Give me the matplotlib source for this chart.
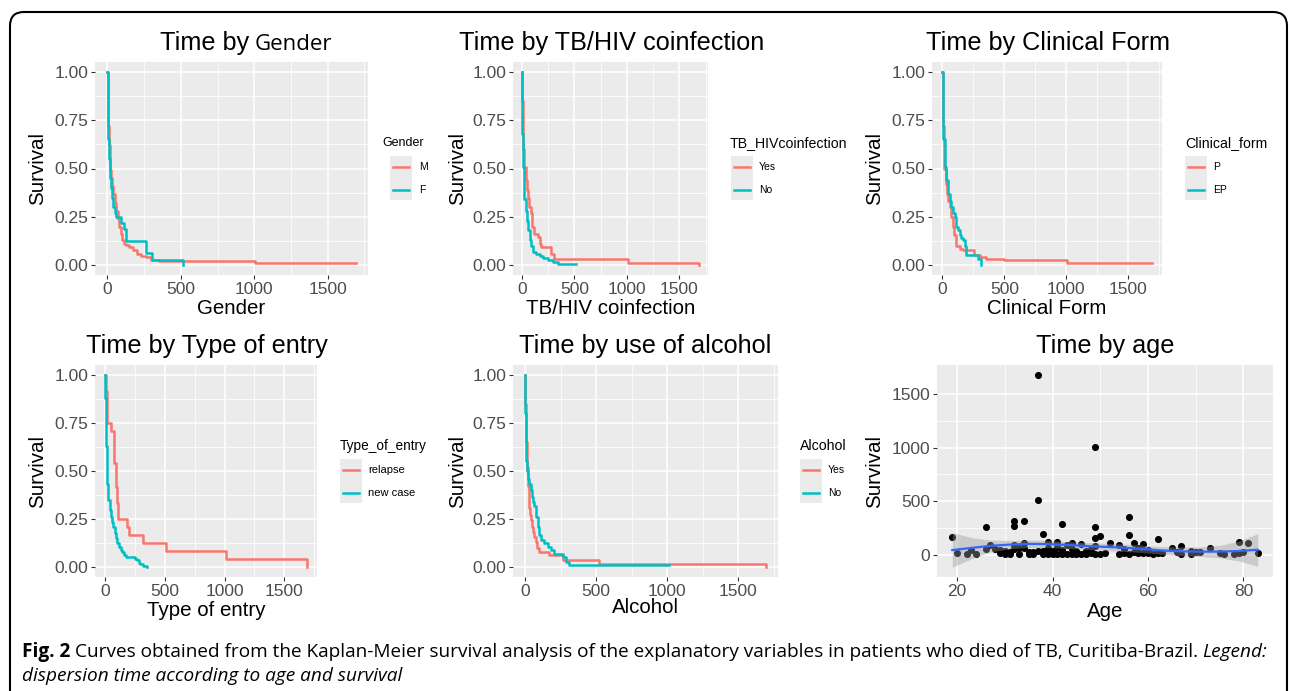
import numpy as np
import matplotlib
matplotlib.use("Agg")
import matplotlib.pyplot as plt
from matplotlib.patches import FancyBboxPatch, Rectangle
from matplotlib.lines import Line2D

W, H = 1290, 691
RED = "#F8766D"; TEAL = "#00BFC4"; PANEL_BG = "#EBEBEB"
plt.rcParams["font.family"] = ["Liberation Sans", "DejaVu Sans"]

# --- Kaplan-Meier curves (time, survival) ---
gender_m_t = [0, 3, 6, 10, 15, 20, 25, 32, 40, 50, 60, 70, 80, 90, 100, 110, 125, 150, 175, 200, 230, 260, 300, 350, 1007, 1690]
gender_m_s = [1.0, .85, .72, .62, .55, .49, .45, .41, .37, .32, .28, .24, .20, .16, .13, .11, .105, .095, .08, .06, .05, .043, .03, .02, .01, .01]
gender_f_t = [0, 3, 6, 10, 15, 20, 25, 30, 40, 50, 57, 90, 113, 124, 265, 305, 516]
gender_f_s = [1.0, .80, .65, .55, .50, .45, .40, .35, .30, .27, .25, .22, .19, .125, .065, .03, 0.0]

hiv_yes_t = [0, 3, 8, 15, 25, 35, 45, 57, 70, 89, 100, 111, 152, 168, 183, 278, 310, 1006, 1687]
hiv_yes_s = [1.0, .85, .72, .60, .51, .44, .39, .35, .30, .27, .20, .16, .147, .11, .095, .06, .034, .014, 0.0]
hiv_no_t = [0, 2, 5, 10, 18, 25, 35, 50, 60, 73, 90, 104, 130, 168, 200, 247, 300, 342, 516]
hiv_no_s = [1.0, .85, .68, .51, .42, .34, .28, .23, .18, .13, .10, .07, .06, .05, .04, .026, .018, .009, .009]

form_p_t = [0, 3, 6, 10, 16, 25, 35, 45, 59, 72, 85, 94, 112, 139, 166, 259, 300, 353, 500, 1008, 1690]
form_p_s = [1.0, .85, .72, .60, .50, .42, .37, .33, .30, .25, .20, .155, .10, .086, .078, .052, .043, .034, .026, .012, .012]
form_ep_t = [0, 3, 8, 19, 30, 45, 60, 72, 85, 99, 112, 125, 139, 150, 166, 180, 193, 286, 313]
form_ep_s = [1.0, .82, .65, .51, .44, .37, .33, .30, .27, .25, .20, .18, .155, .14, .13, .10, .052, .034, 0.0]

relapse_t = [0, 4, 8, 12, 19, 47, 75, 88, 92, 96, 100, 104, 108, 185, 199, 318, 508, 1014, 1690]
relapse_s = [1.0, .958, .917, .833, .75, .708, .542, .458, .417, .375, .333, .292, .25, .208, .167, .125, .083, .042, 0.0]
newcase_t = [0, 2, 5, 8, 14, 20, 28, 38, 47, 58, 69, 80, 88, 100, 116, 130, 144, 160, 171, 226, 254, 268, 282, 296, 320, 351]
newcase_s = [1.0, .88, .75, .63, .52, .43, .35, .30, .26, .235, .21, .18, .15, .125, .107, .09, .081, .065, .055, .052, .045, .038, .025, .016, .008, .003]

alc_yes_t = [0, 2, 5, 7, 12, 19, 25, 30, 36, 42, 48, 54, 65, 77, 86, 96, 171, 265, 522, 1693]
alc_yes_s = [1.0, .85, .75, .65, .52, .42, .36, .31, .27, .245, .21, .185, .16, .133, .10, .081, .064, .038, .016, 0.0]
alc_no_t = [0, 2, 5, 8, 12, 20, 30, 40, 49, 58, 66, 78, 89, 100, 112, 136, 159, 183, 206, 265, 288, 311, 1014]
alc_no_s = [1.0, .80, .65, .55, .50, .46, .43, .40, .365, .34, .32, .26, .21, .17, .14, .124, .107, .09, .067, .055, .029, .012, .012]

# --- survival time by age (scatter) ---
age = [19, 20, 22, 23, 24, 26, 26, 27, 28, 29, 29, 30, 30, 31, 31, 32, 32, 32, 32, 33, 33, 34, 34, 34,
       35, 35, 36, 36, 37, 37, 37, 38, 38, 38, 39, 39, 39, 40, 40, 41, 41, 41, 42, 42, 42, 43, 43, 44,
       44, 44, 45, 45, 46, 46, 47, 47, 48, 48, 49, 49, 49, 49, 49, 50, 50, 51, 52, 54, 54, 55, 55, 56,
       56, 56, 57, 57, 58, 58, 59, 59, 60, 60, 61, 62, 62, 63, 65, 66, 67, 67, 69, 69, 70, 71, 73, 75,
       76, 78, 79, 79, 80, 81, 83]
surv_time = [160, 12, 8, 38, 5, 258, 50, 91, 50, 45, 15, 8, 30, 5, 20, 311, 271, 50, 85, 5, 60, 311, 110, 60,
             5, 25, 5, 20, 1685, 509, 30, 195, 30, 5, 120, 5, 60, 5, 30, 120, 5, 70, 286, 5, 40, 90, 5, 110,
             5, 50, 5, 30, 100, 5, 30, 5, 50, 10, 1004, 255, 155, 80, 5, 178, 5, 10, 110, 5, 90, 10, 50, 349,
             186, 5, 110, 25, 10, 60, 100, 15, 10, 40, 5, 148, 10, 15, 60, 20, 78, 5, 5, 30, 20, 25, 60, 10,
             5, 5, 122, 15, 20, 110, 15]
smooth_age = [19, 23, 27, 31, 35, 39, 43, 47, 51, 55, 59, 63, 67, 71, 75, 79, 83]
smooth_fit = [42, 62, 82, 93, 100, 98, 90, 80, 72, 64, 52, 38, 30, 27, 28, 33, 45]
smooth_lo = [-120, -40, 25, 55, 65, 65, 58, 48, 38, 30, 18, 2, -10, -18, -30, -60, -110]
smooth_hi = [205, 160, 135, 132, 135, 131, 122, 112, 106, 98, 86, 74, 70, 72, 86, 125, 195]

fig = plt.figure(figsize=(W / 100, H / 100), dpi=100)
fig.patch.set_facecolor("white")
R = fig.canvas.get_renderer()

def fx(x): return x / W
def fy(y): return 1 - y / H

def px_axes(x0, y0, x1, y1):
    return fig.add_axes([fx(x0), fy(y1), (x1 - x0) / W, (y1 - y0) / H])

def style(ax, xmaj, xmin, ymaj, ymin, ylabels=None):
    ax.set_facecolor(PANEL_BG)
    for sp in ax.spines.values():
        sp.set_visible(False)
    ax.set_xticks(xmaj); ax.set_xticks(xmin, minor=True)
    ax.set_yticks(ymaj); ax.set_yticks(ymin, minor=True)
    if ylabels is not None:
        ax.set_yticklabels(ylabels)
    ax.grid(which="major", color="white", lw=1.1)
    ax.grid(which="minor", color="white", lw=0.55)
    ax.set_axisbelow(True)
    ax.tick_params(which="major", length=3, width=0.8, color="#333333",
                   labelcolor="#4D4D4D", labelsize=12.5, pad=2)
    ax.tick_params(which="minor", length=0)

def text_runs(x, y, parts, center=False, gap=0):
    objs = [fig.text(0, fy(y), s, va="baseline", **kw) for s, kw in parts]
    widths = [t.get_window_extent(R).width for t in objs]
    cur = x - (sum(widths) + gap * (len(objs) - 1)) / 2 if center else x
    for t, w in zip(objs, widths):
        t.set_x(fx(cur)); cur += w + gap
    return objs

def legend(tx, ty, kx, lx, title, labels, tsize, lsize):
    fig.text(fx(tx), fy(ty), title, ha="left", va="center", fontsize=tsize, color="black")
    fig.add_artist(Rectangle((fx(kx), fy(ty + 57)), 22 / W, 44 / H,
                             transform=fig.transFigure, color=PANEL_BG, lw=0))
    for k, (lab, col) in enumerate(zip(labels, [RED, TEAL])):
        yy = ty + 24 + 23 * k
        fig.add_artist(Line2D([fx(kx + 3), fx(kx + 19)], [fy(yy)] * 2,
                              transform=fig.transFigure, color=col, lw=1.8))
        fig.text(fx(lx), fy(yy), lab, ha="left", va="center", fontsize=lsize)

def km_panel(box, t1, s1, t2, s2, xlabel, ylx, xly):
    ax = px_axes(*box)
    ax.step(t1, s1, where="post", color=RED, lw=1.8)
    ax.step(t2, s2, where="post", color=TEAL, lw=1.8)
    tmax = max(t1[-1], t2[-1])
    ax.set_xlim(-0.05 * tmax, 1.05 * tmax)
    ax.set_ylim(-0.05, 1.05)
    style(ax, [0, 500, 1000, 1500], [250, 750, 1250, 1750],
          [0, .25, .5, .75, 1.0], [.125, .375, .625, .875],
          ["0.00", "0.25", "0.50", "0.75", "1.00"])
    ax.set_xlabel(xlabel, fontsize=14.8, va="center")
    ax.set_ylabel("Survival", fontsize=14.8, va="center")
    ax.xaxis.set_label_coords(0.5, xly)
    ax.yaxis.set_label_coords(ylx, 0.5)
    return ax

km_panel((95, 62, 368, 275), gender_m_t, gender_m_s, gender_f_t, gender_f_s, "Gender", -0.209, -0.155)
km_panel((513, 62, 708, 275), hiv_yes_t, hiv_yes_s, hiv_no_t, hiv_no_s, "TB/HIV coinfection", -0.287, -0.155)
km_panel((932, 62, 1162, 275), form_p_t, form_p_s, form_ep_t, form_ep_s, "Clinical Form", -0.248, -0.155)
km_panel((95, 365, 317, 577), relapse_t, relapse_s, newcase_t, newcase_s, "Type of entry", -0.257, -0.156)
km_panel((513, 365, 778, 577), alc_yes_t, alc_yes_s, alc_no_t, alc_no_s, "Alcohol", -0.211, -0.146)

ax6 = px_axes(937, 365, 1273, 577)
ax6.scatter(age, surv_time, s=26, color="black", lw=0, zorder=2)
ax6.fill_between(smooth_age, smooth_lo, smooth_hi, color="#999999", alpha=0.4, lw=0, zorder=3)
ax6.plot(smooth_age, smooth_fit, color="#3366FF", lw=1.6, zorder=4)
span = max(age) - min(age)
ax6.set_xlim(min(age) - 0.05 * span, max(age) + 0.05 * span)
lo = min(smooth_lo); hi = max(surv_time)
ax6.set_ylim(lo - 0.05 * (hi - lo), hi + 0.05 * (hi - lo))
style(ax6, [20, 40, 60, 80], [30, 50, 70], [0, 500, 1000, 1500], [250, 750, 1250])
ax6.set_xlabel("Age", fontsize=14.8, va="center")
ax6.set_ylabel("Survival", fontsize=14.8, va="center")
ax6.xaxis.set_label_coords(0.5, -0.165)
ax6.yaxis.set_label_coords(-0.185, 0.5)

# titles
T = dict(fontsize=18.2, color="black")
text_runs(246, 50, [("Time by", T), ("Gender", dict(fontsize=16, family="Open Sans", color="black"))],
          center=True, gap=6)
text_runs(612, 50, [("Time by TB/HIV coinfection", T)], center=True)
text_runs(1048, 50, [("Time by Clinical Form", T)], center=True)
text_runs(207, 353, [("Time by Type of entry", T)], center=True)
text_runs(645, 353, [("Time by use of alcohol", T)], center=True)
text_runs(1105, 353, [("Time by age", T)], center=True)

# legends
legend(382, 143, 390, 419, "Gender", ["M", "F"], 9, 7.5)
legend(730, 143, 731, 759, "TB_HIVcoinfection", ["Yes", "No"], 10.2, 7.5)
legend(1185, 143, 1185, 1213, "Clinical_form", ["P", "EP"], 10.2, 7.5)
legend(340, 446, 340, 368, "Type_of_entry", ["relapse", "new case"], 9.8, 8)
legend(800, 446, 800, 828, "Alcohol", ["Yes", "No"], 10.2, 7.5)

# caption
CAP = ["Liberation Sans Narrow", "Open Sans", "DejaVu Sans"]
size = 12
line1 = [("Fig. 2", dict(fontsize=size, weight="bold", family=CAP)),
         ("Curves obtained from the Kaplan-Meier survival analysis of the explanatory variables in "
          "patients who died of TB, Curitiba-Brazil.", dict(fontsize=size, family=CAP)),
         ("Legend:", dict(fontsize=size, style="italic", family=CAP))]
objs = text_runs(22, 657, line1, gap=4)
total = objs[-1].get_window_extent(R).x1 - 22
scale = 1240 / total
for o in objs:
    o.remove()
size *= scale
for _, kw in line1:
    kw["fontsize"] = size
text_runs(22, 657, line1, gap=4 * scale)
text_runs(22, 681, [("dispersion time according to age and survival",
                     dict(fontsize=size, style="italic", family=CAP))])

# rounded frame around the figure
fig.add_artist(FancyBboxPatch((10, -40), 1277, H - 12 + 40, boxstyle="round,pad=0,rounding_size=14",
                              transform=None, fc="none", ec="black", lw=1.5))

fig.savefig("out.png", dpi=100, facecolor="white")
